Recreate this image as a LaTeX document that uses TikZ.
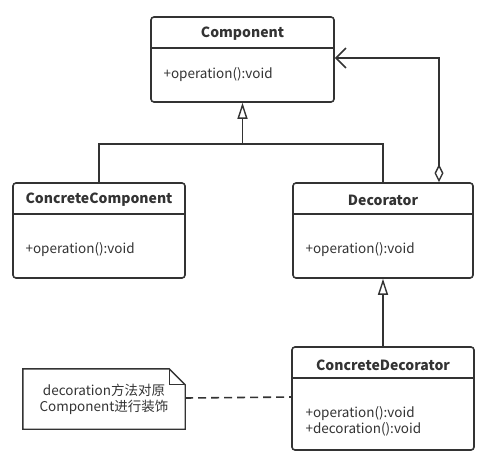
\documentclass[tikz,border=0pt]{standalone}
\usepackage{fontspec}
\setmainfont{Noto Sans CJK SC}
\usetikzlibrary{arrows.meta,positioning}
\definecolor{ink}{HTML}{333333}
\tikzset{
  umlbox/.style={draw=ink, line width=1.6pt, rounded corners=3pt, minimum width=#1, inner sep=0pt},
  ttl/.style={font=\bfseries\fontsize{14}{16}\selectfont, text=ink},
  mth/.style={font=\fontsize{13.5}{16}\selectfont, text=ink, anchor=west, align=left},
  conn/.style={draw=ink, line width=1.6pt},
  inh/.style={conn, -{Triangle[open, length=16pt, width=10pt, line width=1.4pt]}},
  agg/.style={conn, {Diamond[open, length=18pt, width=9pt, line width=1.4pt]}-{Straight Barb[length=10pt, width=20pt, line width=1.6pt]}},
}
\begin{document}
\begin{tikzpicture}[x=1pt, y=-1pt]
\useasboundingbox (0,0) rectangle (487,463);
% boxes
\node[umlbox=183pt, minimum height=85pt] (comp) at (242.5,59.5) {};
\node[umlbox=172pt, minimum height=95pt] (cc) at (99,230.5) {};
\node[umlbox=180pt, minimum height=95pt] (dec) at (383,230.5) {};
\node[umlbox=182pt, minimum height=103pt] (cd) at (383,398.5) {};
% dividers
\draw[conn] (comp.west |- 0,48) -- (comp.east |- 0,48);
\draw[conn] (cc.west |- 0,214) -- (cc.east |- 0,214);
\draw[conn] (dec.west |- 0,214) -- (dec.east |- 0,214);
\draw[conn] (cd.west |- 0,378) -- (cd.east |- 0,378);
% titles
\node[ttl] (compT) at (242.5,34) {Component};
\node[ttl] (ccT) at (99,200) {ConcreteComponent};
\node[ttl] (decT) at (383,200) {Decorator};
\node[ttl] (cdT) at (383,365) {ConcreteDecorator};
% methods
\node[mth] (compM) at (160,74.5) {+operation():void};
\node[mth] (ccM) at (22,249.5) {+operation():void};
\node[mth] (decM) at (302,249.5) {+operation():void};
\node[mth] (cdM) at (302,421.5) {+operation():void\\+decoration():void};
% note
\node[inner sep=0pt, minimum width=162pt, minimum height=60pt, align=center,
      font=\fontsize{13.5}{16}\selectfont, text=ink] (note) at (104,399)
      {decoration方法对原\\Component进行装饰};
\draw[conn, line width=1.4pt, line join=miter]
  (note.north west) -- ([xshift=-16pt]note.north east) -- ([yshift=-16pt]note.north east)
  -- (note.south east) -- (note.south west) -- cycle;
\draw[conn, line width=1.2pt] ([xshift=-16pt]note.north east) -- ([xshift=-16pt,yshift=-16pt]note.north east) -- ([yshift=-16pt]note.north east);
% connectors
\coordinate (j) at (242.5,144);
\draw[inh] (j) -- (comp.south);
\draw[conn] (cc.north) |- (j) -| (dec.north);
\draw[inh] (cd.north) -- (dec.south);
\draw[agg] ([xshift=56pt]dec.north) |- ([yshift=1.5pt]comp.east);
\draw[conn, dash pattern=on 8pt off 5pt] ([yshift=1pt]note.east) -- ([yshift=1.5pt]cd.west);
\end{tikzpicture}
\end{document}
